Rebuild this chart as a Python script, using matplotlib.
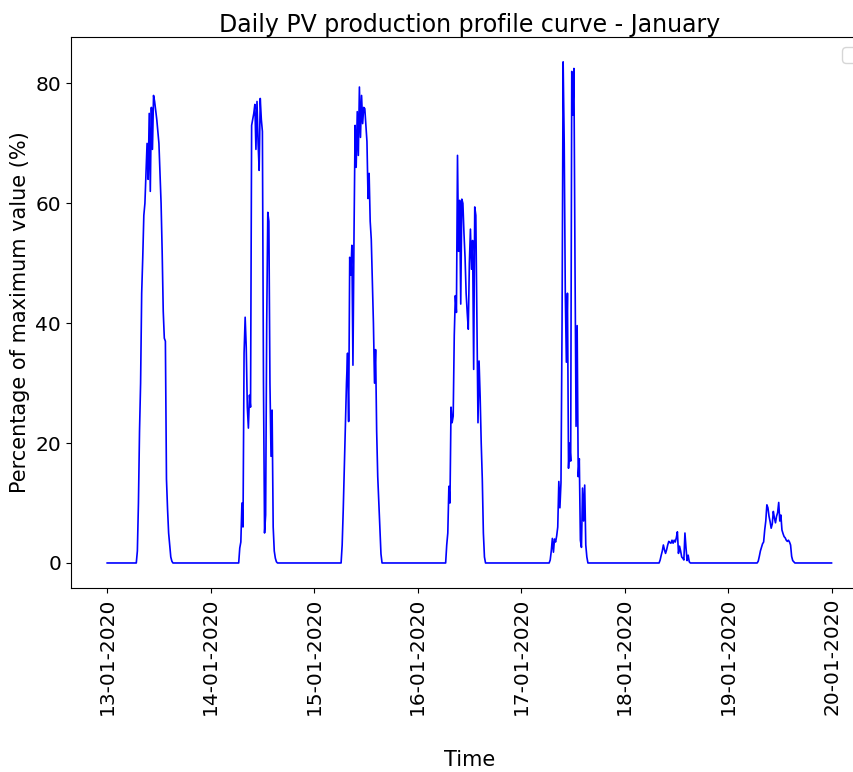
import pandas as pd
import matplotlib
matplotlib.use("Agg")
import matplotlib.pyplot as plt
import matplotlib.dates as mdates

# PV output in % of max, 15-min steps, daylight hours only (rest of the day is 0)
start_13 = "2020-01-13 06:45"
day_13 = [0, 2, 10, 22, 30, 45, 51, 58, 60, 65, 70, 64, 75, 62, 76, 69, 78, 77,
          75.5, 74, 72, 70, 65, 60, 52, 42, 37.5, 37, 14, 9, 5, 3, 1, 0.3, 0]

start_14 = "2020-01-14 06:30"
day_14 = [0, 2.5, 3.5, 10, 6, 35, 41, 36, 26, 22.5, 28, 26, 73, 74, 75, 76.5, 69,
          77, 70, 65.5, 77.5, 74, 72, 30, 5, 8, 40, 58.5, 57, 30, 17.8, 25.5, 6,
          2, 0.8, 0.2, 0]

start_15 = "2020-01-15 06:15"
day_15 = [0, 3, 8.9, 16, 22.8, 30, 35, 23.6, 51, 48, 53, 33, 55, 73, 66, 75.3, 68,
          79.4, 71, 78, 73.3, 76, 75.8, 73, 70.3, 60.8, 65, 57, 54, 47, 40, 30,
          35.6, 22, 14.4, 10, 6, 1.5, 0]

start_16 = "2020-01-16 06:30"
day_16 = [0, 3, 5, 12.8, 10, 26, 23.4, 24.5, 38, 44.6, 41.8, 68, 52, 60.5, 43.2,
          60.7, 60, 55, 51, 45, 41.8, 39, 50, 55.7, 49, 53.8, 32.3, 59.4, 58, 40,
          23.4, 33.7, 27.8, 20, 14, 5, 1, 0]

start_17 = "2020-01-17 06:30"
day_17 = [0, 0.5, 2, 4.1, 1.8, 4, 3.5, 4.5, 6, 13.6, 9.2, 13.4, 40, 83.6, 70, 45,
          33.5, 45, 15.8, 20, 17, 82, 74.7, 82.5, 50, 22.8, 39.6, 14.4, 17.4, 3.8,
          2.6, 12.5, 7, 13, 3, 1, 0]

start_18 = "2020-01-18 08:00"
day_18 = [0, 0.5, 1.3, 2, 3, 2.2, 1.6, 2.2, 3, 3.6, 3.4, 3.3, 3.8, 3.3, 3.8, 3.5,
          4.2, 5.2, 1.6, 2.8, 2, 1.0, 0.8, 0.5, 5, 2.5, 0.4, 1.3, 0.2, 0]

start_19 = "2020-01-19 06:45"
day_19 = [0, 0.3, 1.1, 2, 2.6, 3.2, 3.5, 5.5, 7, 9.7, 9.2, 7.8, 6.9, 5.8, 6.5, 8.6,
          7.5, 6.7, 7.8, 8.4, 10.1, 7, 8, 5.5, 4.9, 4.4, 4.2, 3.8, 3.6, 3.8, 3.5,
          3, 1.1, 0.4, 0.2, 0]

starts = [start_13, start_14, start_15, start_16, start_17, start_18, start_19]
days = [day_13, day_14, day_15, day_16, day_17, day_18, day_19]

idx = pd.date_range("2020-01-13 00:00", "2020-01-20 00:00", freq="15min")
pv = pd.Series(0.0, index=idx)
for s, vals in zip(starts, days):
    t = pd.date_range(s, periods=len(vals), freq="15min")
    pv.loc[t] = vals

fig = plt.figure(figsize=(8.54, 7.72), dpi=100)
# the original figure is cropped on the right, so the axes run past the edge
ax = fig.add_axes([0.0831, 0.2383, 0.933, 0.714])
ax.plot(pv.index, pv.values, color="blue", linewidth=1.2)

ax.set_title("Daily PV production profile curve - January", fontsize=17, pad=3)
ax.set_xlabel("Time", fontsize=15, labelpad=25)
ax.set_ylabel("Percentage of maximum value (%)", fontsize=15)
ax.xaxis.set_major_locator(mdates.DayLocator())
ax.xaxis.set_major_formatter(mdates.DateFormatter("%d-%m-%Y"))
ax.tick_params(axis="x", labelrotation=90, labelsize=14.5)
ax.tick_params(axis="y", labelsize=14.5)
ax.set_yticks([0, 20, 40, 60, 80])
ax.legend(fontsize=14.5)

fig.savefig("out.png", dpi=100)
